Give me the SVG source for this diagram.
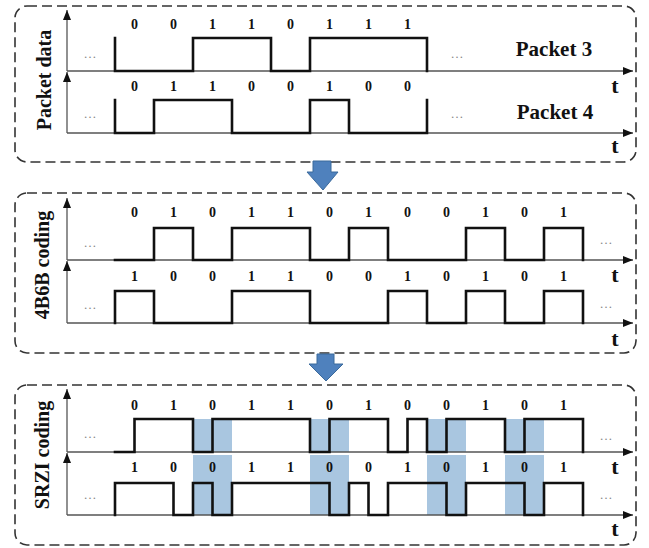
<svg xmlns="http://www.w3.org/2000/svg" width="649" height="548" viewBox="0 0 649 548">
<defs>
<marker id="ah" viewBox="0 0 10 8" markerWidth="10" markerHeight="8" refX="10" refY="4" orient="auto" markerUnits="userSpaceOnUse">
<path d="M0,0 L10,4 L0,8 z" fill="#111"/>
</marker>
<style>
.frame{fill:none;stroke:#333;stroke-width:1.6;stroke-dasharray:10 5}
.axis{fill:none;stroke:#555;stroke-width:1.3;marker-end:url(#ah)}
.sig{fill:none;stroke:#111;stroke-width:2.6;stroke-linejoin:miter;stroke-linecap:square}
.band{fill:#a9c6e0}
.bit{font-family:"Liberation Serif",serif;font-weight:bold;font-size:14px;fill:#111;text-anchor:middle}
.t{font-family:"Liberation Serif",serif;font-weight:bold;font-size:22px;fill:#111;text-anchor:middle}
.lbl{font-family:"Liberation Serif",serif;font-weight:bold;font-size:21px;fill:#111;text-anchor:middle}
.side{font-family:"Liberation Serif",serif;font-weight:bold;font-size:20px;fill:#111;text-anchor:middle}
.dots{font-family:"Liberation Serif",serif;font-size:13px;fill:#888;text-anchor:middle}
.barrow{fill:#4f81bd;stroke:#3b6a9c;stroke-width:1}
</style>
</defs>
<rect width="649" height="548" fill="#fff"/>

<g id="panel-packet">
<rect class="frame" x="15" y="6" width="621" height="156" rx="12"/>
<text class="side" transform="translate(51,80) rotate(-90)">Packet data</text>
<line class="axis" x1="67" y1="71" x2="67" y2="10"/>
<line class="axis" x1="67" y1="133" x2="67" y2="72"/>
<line class="axis" x1="67" y1="71" x2="633" y2="71"/>
<line class="axis" x1="67" y1="133" x2="633" y2="133"/>
<path class="sig" d="M115,38 V71 H193 V38 H271 V71 H310 V38 H427 V71"/>
<path class="sig" d="M115,100 V133 H154 V100 H232 V133 H310 V100 H349 V133 H427 V100"/>
<g class="bit">
<text x="134.5" y="28.5">0</text><text x="173.5" y="28.5">0</text><text x="212.5" y="28.5">1</text><text x="251.5" y="28.5">1</text><text x="290.5" y="28.5">0</text><text x="329.5" y="28.5">1</text><text x="368.5" y="28.5">1</text><text x="407.5" y="28.5">1</text>
<text x="134.5" y="90.5">0</text><text x="173.5" y="90.5">1</text><text x="212.5" y="90.5">1</text><text x="251.5" y="90.5">0</text><text x="290.5" y="90.5">0</text><text x="329.5" y="90.5">1</text><text x="368.5" y="90.5">0</text><text x="407.5" y="90.5">0</text>
</g>
<text class="dots" x="90" y="58">…</text><text class="dots" x="90" y="118">…</text>
<text class="dots" x="457" y="58">…</text><text class="dots" x="457" y="118">…</text>
<text class="lbl" x="554" y="56">Packet 3</text>
<text class="lbl" x="555" y="119">Packet 4</text>
<text class="t" x="615" y="93">t</text>
<text class="t" x="615" y="153">t</text>
</g>

<g id="panel-4b6b">
<rect class="frame" x="15" y="193" width="621" height="160" rx="12"/>
<text class="side" transform="translate(49,265) rotate(-90)">4B6B coding</text>
<line class="axis" x1="67" y1="260" x2="67" y2="198"/>
<line class="axis" x1="67" y1="323" x2="67" y2="261"/>
<line class="axis" x1="67" y1="260" x2="633" y2="260"/>
<line class="axis" x1="67" y1="323" x2="633" y2="323"/>
<path class="sig" d="M115,260 H154 V228 H193 V260 H232 V228 H310 V260 H349 V228 H388 V260 H466 V228 H505 V260 H544 V228 H583 V260"/>
<path class="sig" d="M115,323 V291 H154 V323 H232 V291 H310 V323 H388 V291 H427 V323 H466 V291 H505 V323 H544 V291 H583 V323"/>
<g class="bit">
<text x="134.5" y="217">0</text><text x="173.5" y="217">1</text><text x="212.5" y="217">0</text><text x="251.5" y="217">1</text><text x="290.5" y="217">1</text><text x="329.5" y="217">0</text><text x="368.5" y="217">1</text><text x="407.5" y="217">0</text><text x="446.5" y="217">0</text><text x="485.5" y="217">1</text><text x="524.5" y="217">0</text><text x="563.5" y="217">1</text>
<text x="134.5" y="281">1</text><text x="173.5" y="281">0</text><text x="212.5" y="281">0</text><text x="251.5" y="281">1</text><text x="290.5" y="281">1</text><text x="329.5" y="281">0</text><text x="368.5" y="281">0</text><text x="407.5" y="281">1</text><text x="446.5" y="281">0</text><text x="485.5" y="281">1</text><text x="524.5" y="281">0</text><text x="563.5" y="281">1</text>
</g>
<text class="dots" x="90" y="247">…</text><text class="dots" x="90" y="309">…</text>
<text class="dots" x="606" y="244">…</text><text class="dots" x="606" y="308">…</text>
<text class="t" x="615" y="282">t</text>
<text class="t" x="615" y="346">t</text>
</g>

<g id="panel-srzi">
<rect class="frame" x="15" y="385" width="621" height="160" rx="12"/>
<g class="band">
<rect x="193" y="419" width="39" height="33"/><rect x="193" y="455" width="39" height="60"/>
<rect x="310" y="419" width="39" height="33"/><rect x="310" y="455" width="39" height="60"/>
<rect x="427" y="419" width="39" height="33"/><rect x="427" y="455" width="39" height="60"/>
<rect x="505" y="419" width="39" height="33"/><rect x="505" y="455" width="39" height="60"/>
</g>
<text class="side" transform="translate(49,455) rotate(-90)">SRZI coding</text>
<line class="axis" x1="67" y1="452" x2="67" y2="389"/>
<line class="axis" x1="67" y1="515" x2="67" y2="453"/>
<line class="axis" x1="67" y1="452" x2="633" y2="452"/>
<line class="axis" x1="67" y1="515" x2="633" y2="515"/>
<path class="sig" d="M115,452 H134.5 V419 H193 V452 H212.5 V419 H310 V452 H329.5 V419 H388 V452 H407.5 V419 H427 V452 H446.5 V419 H505 V452 H524.5 V419 H583 V452"/>
<path class="sig" d="M115,515 V483 H173.5 V515 H193 V483 H212.5 V515 H232 V483 H329.5 V515 H349 V483 H368.5 V515 H388 V483 H446.5 V515 H466 V483 H524.5 V515 H544 V483 H583 V515"/>
<g class="bit">
<text x="134.5" y="410">0</text><text x="173.5" y="410">1</text><text x="212.5" y="410">0</text><text x="251.5" y="410">1</text><text x="290.5" y="410">1</text><text x="329.5" y="410">0</text><text x="368.5" y="410">1</text><text x="407.5" y="410">0</text><text x="446.5" y="410">0</text><text x="485.5" y="410">1</text><text x="524.5" y="410">0</text><text x="563.5" y="410">1</text>
<text x="134.5" y="472">1</text><text x="173.5" y="472">0</text><text x="212.5" y="472">0</text><text x="251.5" y="472">1</text><text x="290.5" y="472">1</text><text x="329.5" y="472">0</text><text x="368.5" y="472">0</text><text x="407.5" y="472">1</text><text x="446.5" y="472">0</text><text x="485.5" y="472">1</text><text x="524.5" y="472">0</text><text x="563.5" y="472">1</text>
</g>
<text class="dots" x="90" y="438">…</text><text class="dots" x="90" y="499">…</text>
<text class="dots" x="606" y="440">…</text><text class="dots" x="606" y="499">…</text>
<text class="t" x="615" y="474">t</text>
<text class="t" x="615" y="536">t</text>
</g>

<g id="connectors">
<polygon class="barrow" points="313,161 331,161 331,172 338,172 323,190 307,172 313,172"/>
<polygon class="barrow" points="317,354 334,354 334,364 343,364 326,381 309,364 317,364"/>
</g>
</svg>
